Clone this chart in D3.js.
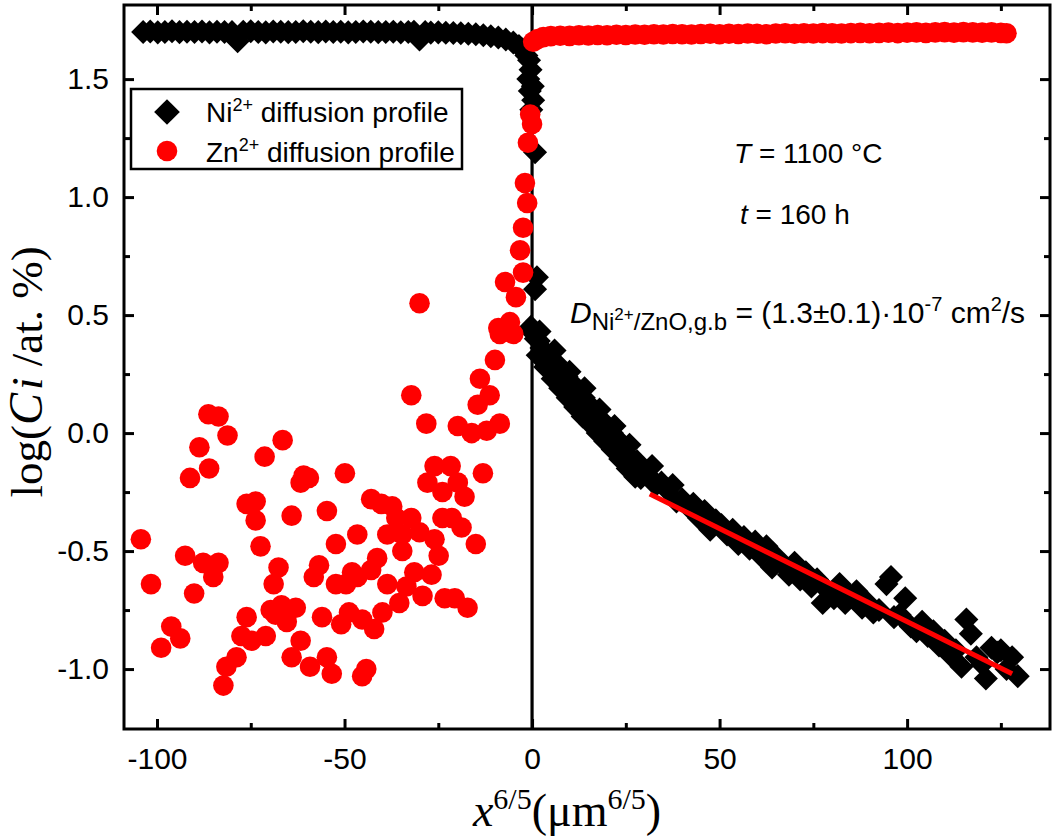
<!DOCTYPE html>
<html><head><meta charset="utf-8">
<script src="https://cdn.jsdelivr.net/npm/d3@7"></script>
<style>body{margin:0;background:#fff}</style>
</head><body>
<svg id="c" width="1053" height="840"></svg>
<script>
// ---- data ----
const xTicks = [-100, -50, 0, 50, 100];
const xMinor = [-75, -25, 25, 75, 125];
const yTicks = [-1.0, -0.5, 0.0, 0.5, 1.0, 1.5];
const yMinor = [-0.75, -0.25, 0.25, 0.75, 1.25];

// Ni2+ profile: plateau (x<0)
const niPlateauX = [-103.7,-101.8,-99.8,-97.9,-96.0,-94.0,-92.0,-90.0,-88.0,-86.0,-84.0,-82.0,-80.0,-78.5,-77.0,-75.0,-73.0,-71.0,-69.0,-67.0,-65.0,-63.0,-61.0,-59.0,-57.0,-55.0,-53.0,-51.0,-49.0,-47.0,-45.0,-43.0,-41.0,-39.0,-37.0,-35.0,-33.0,-31.5,-30.0,-28.5,-27.0,-25.0,-23.0,-21.0,-19.0,-17.0,-15.0,-13.0,-11.0,-9.0,-7.0,-5.0,-3.5];
const niPlateauY = [1.700,1.702,1.698,1.700,1.703,1.699,1.701,1.700,1.702,1.698,1.701,1.700,1.699,1.660,1.701,1.703,1.700,1.698,1.702,1.701,1.699,1.700,1.703,1.701,1.699,1.702,1.700,1.701,1.698,1.700,1.702,1.701,1.699,1.700,1.701,1.698,1.700,1.701,1.668,1.699,1.697,1.698,1.696,1.695,1.694,1.692,1.690,1.686,1.682,1.676,1.668,1.655,1.640];
// Ni2+ profile: drop at interface
const niDropX = [-2.5,-1.5,-0.8,-0.4,-1.0,0.2,-0.6,0.3,-0.2,0.8,1.3,0.8,-0.3,0.6];
const niDropY = [1.625,1.60,1.58,1.54,1.50,1.47,1.45,1.41,1.37,1.19,0.66,0.61,0.45,0.42];
// Ni2+ profile: grain-boundary tail (x>0)
const niTailX = [0.3,1.0,1.8,2.5,3.2,4.0,4.8,5.5,6.3,7.0,7.8,8.5,9.2,10.0,10.8,11.5,12.3,13.0,13.8,14.5,15.3,16.0,16.8,17.5,18.3,19.0,19.8,20.5,21.3,22.0,22.8,23.5,24.3,25.0,26.0,27.0,28.0,29.0,30.0,31.0,32.0,33.0,34.5,36.0,37.5,38.5,40.0,41.5,43.0,44.5,46.0,47.5,49.0,50.5,52.0,53.5,55.0,56.5,58.0,59.5,61.0,62.5,64.0,65.5,67.0,68.5,70.0,71.5,73.0,74.5,76.0,77.5,79.0,80.5,82.0,83.5,85.0,86.5,88.0,89.5,91.0,92.5,94.5,95.7,96.5,98.0,99.5,101.0,102.5,104.0,105.5,107.0,108.5,110.0,111.5,113.0,114.5,115.8,117.0,118.5,120.0,121.0,122.5,124.0,125.0,126.5,128.0,129.5];
const niTailY = [0.43,0.40,0.39,0.36,0.35,0.32,0.31,0.28,0.30,0.25,0.26,0.22,0.24,0.19,0.21,0.16,0.18,0.13,0.15,0.10,0.12,0.07,0.09,0.04,0.06,0.02,0.03,-0.01,0.00,-0.04,-0.03,-0.07,-0.05,-0.09,-0.10,-0.13,-0.12,-0.19,-0.16,-0.18,-0.14,-0.22,-0.21,-0.24,-0.22,-0.29,-0.28,-0.31,-0.30,-0.36,-0.33,-0.41,-0.37,-0.39,-0.43,-0.41,-0.47,-0.44,-0.49,-0.46,-0.52,-0.48,-0.57,-0.53,-0.56,-0.60,-0.55,-0.62,-0.59,-0.65,-0.62,-0.72,-0.67,-0.70,-0.64,-0.72,-0.69,-0.67,-0.74,-0.72,-0.76,-0.75,-0.64,-0.61,-0.78,-0.77,-0.70,-0.82,-0.84,-0.80,-0.86,-0.84,-0.90,-0.88,-0.94,-0.92,-0.99,-0.79,-0.85,-0.95,-0.98,-1.04,-0.91,-0.93,-0.92,-1.00,-0.95,-1.03];
// Ni2+ tail: scattered points around the steep start of the tail
const niSpreadX = [1.5,3.5,5.5,7.5,9.5,11.5,13.5,15.5,17.5,19.5,21.5,23.5,25.5,27.5,2.0,6.0,10.0,14.0,18.0,22.0,26.0];
const niSpreadY = [0.33,0.28,0.23,0.19,0.15,0.11,0.07,0.04,0.00,-0.035,-0.07,-0.11,-0.15,-0.185,0.43,0.35,0.26,0.19,0.10,0.03,-0.05];

// Zn2+ profile: plateau (x>0)
const znPlateauX = [0.3,1.5,3,5,7.5,10,12.5,15,17.5,20,22.5,25,27.5,30,32.5,35,37.5,40,42.5,45,47.5,50,52.5,55,57.5,60,62.5,65,67.5,70,72.5,75,77.5,80,82.5,85,87.5,90,92.5,95,97.5,100,102.5,105,107.5,110,112.5,115,117.5,120,122.5,125,126.5];
const znPlateauY = [1.658,1.670,1.678,1.682,1.684,1.683,1.686,1.685,1.687,1.686,1.688,1.687,1.689,1.688,1.690,1.689,1.691,1.690,1.689,1.691,1.692,1.690,1.692,1.691,1.693,1.692,1.690,1.693,1.694,1.692,1.694,1.693,1.695,1.694,1.693,1.695,1.696,1.694,1.696,1.697,1.695,1.697,1.698,1.696,1.698,1.699,1.697,1.699,1.698,1.697,1.698,1.696,1.694];
// Zn2+ profile: scattered / decaying part (x<0)
const znX = [-104.3,-101.6,-98.9,-96.2,-93.8,-92.5,-91.2,-90.1,-88.7,-87.7,-86.3,-86.1,-85.0,-83.6,-83.6,-82.3,-81.5,-81.2,-78.8,-77.5,-76.1,-76.1,-74.8,-73.7,-73.7,-72.4,-71.3,-71.0,-69.7,-68.9,-68.4,-67.6,-66.8,-66.5,-65.4,-64.1,-64.1,-63.0,-61.7,-61.7,-60.9,-59.5,-59.2,-58.2,-56.8,-56.0,-54.7,-54.7,-53.4,-52.3,-52.3,-50.9,-49.9,-49.6,-48.8,-48.0,-46.6,-46.6,-45.3,-45.3,-44.2,-42.9,-42.9,-42.1,-41.3,-40.2,-39.9,-38.6,-38.6,-37.3,-36.2,-35.4,-34.6,-34.6,-33.5,-32.2,-32.2,-31.4,-30.0,-30.0,-29.2,-28.2,-27.9,-26.8,-26.0,-26.0,-24.9,-23.9,-23.9,-23.3,-21.7,-21.4,-20.6,-19.8,-19.8,-18.8,-18.0,-17.2,-16.1,-15.0,-14.5,-13.9,-13.1,-12.1,-11.3,-9.9,-8.6,-8.6,-9.0,-7.2,-5.9,-5.0,-4.3,-2.4,-3.2,-2.4,-1.3,-1.9,-1.1,0.0,-0.5];
const znY = [-0.45,-0.64,-0.91,-0.82,-0.87,-0.52,-0.19,-0.68,-0.06,-0.55,0.08,-0.15,-0.61,0.07,-0.55,-1.07,-0.99,-0.01,-0.95,-0.86,-0.30,-0.78,-0.88,-0.29,-0.37,-0.48,-0.10,-0.86,-0.75,-0.64,-0.77,-0.57,-0.73,-0.03,-0.80,-0.35,-0.95,-0.74,-0.21,-0.88,-0.18,-0.19,-0.99,-0.61,-0.56,-0.78,-0.33,-0.95,-1.02,-0.47,-0.64,-0.81,-0.17,-0.64,-0.76,-0.59,-0.43,-0.61,-0.79,-1.03,-1.00,-0.28,-0.58,-0.83,-0.53,-0.30,-0.76,-0.43,-0.64,-0.31,-0.36,-0.72,-0.43,-0.50,-0.65,-0.36,0.16,-0.59,0.55,-0.42,-0.69,0.04,-0.21,-0.60,-0.14,-0.45,-0.52,-0.25,-0.36,-0.70,-0.14,-0.36,-0.70,0.03,-0.21,-0.40,-0.27,-0.74,0.00,-0.47,0.12,0.23,-0.17,0.01,0.16,0.31,0.04,0.42,0.445,0.64,0.47,0.42,0.576,0.68,0.775,0.87,0.975,1.06,1.23,1.31,1.35];

// linear fit of the Ni2+ grain-boundary tail
const fitX = [31.4, 128.0];
const fitY = [-0.258, -1.02];

// ---- drawing ----
const svg = d3.select('#c');
const L = 124, R = 1050, T = 5, B = 729;
const x = d3.scaleLinear().domain([-108.8, 138.1]).range([L, R]);
const y = d3.scaleLinear().domain([-1.254, 1.814]).range([B, T]);
const SANS = '"Liberation Sans", Arial, Helvetica, sans-serif';
const SERIF = '"Liberation Serif", "Times New Roman", Times, serif';
const zip = (a, b) => a.map((v, i) => [v, b[i]]);

// vertical interface line
svg.append('line').attr('x1', x(0)).attr('x2', x(0)).attr('y1', T).attr('y2', B)
  .attr('stroke', '#000').attr('stroke-width', 3.2);

// axes (ticks inward on all four sides)
function styleAxis(g) {
  g.select('.domain').remove();
  g.selectAll('.tick line').attr('stroke', '#000').attr('stroke-width', 3);
  g.selectAll('.tick text').attr('fill', '#000').style('font-family', SANS).style('font-size', '30px');
}
const fmtX = d => String(d);
const fmtY = d => d.toFixed(1);
svg.append('g').attr('transform', `translate(0,${B})`)
  .call(d3.axisBottom(x).tickValues(xTicks).tickSize(-10).tickPadding(19).tickFormat(fmtX)).call(styleAxis);
svg.append('g').attr('transform', `translate(0,${B})`)
  .call(d3.axisBottom(x).tickValues(xMinor).tickSize(-6).tickFormat('')).call(styleAxis);
svg.append('g').attr('transform', `translate(0,${T})`)
  .call(d3.axisTop(x).tickValues(xTicks).tickSize(-10).tickFormat('')).call(styleAxis);
svg.append('g').attr('transform', `translate(0,${T})`)
  .call(d3.axisTop(x).tickValues(xMinor).tickSize(-6).tickFormat('')).call(styleAxis);
svg.append('g').attr('transform', `translate(${L},0)`)
  .call(d3.axisLeft(y).tickValues(yTicks).tickSize(-10).tickPadding(15).tickFormat(fmtY)).call(styleAxis);
svg.append('g').attr('transform', `translate(${L},0)`)
  .call(d3.axisLeft(y).tickValues(yMinor).tickSize(-6).tickFormat('')).call(styleAxis);
svg.append('g').attr('transform', `translate(${R},0)`)
  .call(d3.axisRight(y).tickValues(yTicks).tickSize(-10).tickFormat('')).call(styleAxis);
svg.append('g').attr('transform', `translate(${R},0)`)
  .call(d3.axisRight(y).tickValues(yMinor).tickSize(-6).tickFormat('')).call(styleAxis);

// Ni2+ diamonds
const diamond = d3.symbol(d3.symbolSquare, 289);
const niData = zip(niPlateauX, niPlateauY).concat(zip(niDropX, niDropY), zip(niTailX, niTailY), zip(niSpreadX, niSpreadY));
svg.append('g').selectAll('path').data(niData).join('path')
  .attr('d', diamond)
  .attr('transform', d => `translate(${x(d[0])},${y(d[1])}) rotate(45)`)
  .attr('fill', '#000');

// Zn2+ circles
const znData = zip(znX, znY).concat(zip(znPlateauX, znPlateauY));
svg.append('g').selectAll('circle').data(znData).join('circle')
  .attr('cx', d => x(d[0])).attr('cy', d => y(d[1])).attr('r', 10.3)
  .attr('fill', '#ff0000');

// fit line
svg.append('path').datum(zip(fitX, fitY))
  .attr('d', d3.line().x(d => x(d[0])).y(d => y(d[1])))
  .attr('stroke', '#ff0000').attr('stroke-width', 5).attr('fill', 'none');

// frame
svg.append('rect').attr('x', L).attr('y', T).attr('width', R - L).attr('height', B - T)
  .attr('fill', 'none').attr('stroke', '#000').attr('stroke-width', 3);

// legend
const lg = svg.append('g');
lg.append('rect').attr('x', 131).attr('y', 89).attr('width', 331).attr('height', 80)
  .attr('fill', '#fff').attr('stroke', '#000').attr('stroke-width', 2.5);
lg.append('path').attr('d', d3.symbol(d3.symbolSquare, 330))
  .attr('transform', 'translate(167,112) rotate(45)').attr('fill', '#000');
lg.append('circle').attr('cx', 167).attr('cy', 151).attr('r', 10.3).attr('fill', '#ff0000');
function legendText(yy, ion) {
  const t = lg.append('text').attr('x', 206).attr('y', yy)
    .style('font-family', SANS).style('font-size', '28px').attr('fill', '#000');
  t.append('tspan').text(ion);
  t.append('tspan').attr('dy', -11).style('font-size', '18px').text('2+');
  t.append('tspan').attr('dy', 11).text(' diffusion profile');
}
legendText(122, 'Ni');
legendText(162, 'Zn');

// annotations
const a1 = svg.append('text').attr('x', 734).attr('y', 163)
  .style('font-family', SANS).style('font-size', '28px');
a1.append('tspan').style('font-style', 'italic').text('T');
a1.append('tspan').text(' = 1100 \u00B0C');
const a2 = svg.append('text').attr('x', 740).attr('y', 224)
  .style('font-family', SANS).style('font-size', '28px');
a2.append('tspan').style('font-style', 'italic').text('t');
a2.append('tspan').text(' = 160 h');

const a3 = svg.append('text').attr('x', 570).attr('y', 323)
  .style('font-family', SANS).style('font-size', '30px');
a3.append('tspan').style('font-style', 'italic').text('D');
a3.append('tspan').attr('dy', 7).style('font-size', '24px').text('Ni');
a3.append('tspan').attr('dy', -10).style('font-size', '17px').text('2+');
a3.append('tspan').attr('dy', 10).style('font-size', '24px').text('/ZnO,g.b');
a3.append('tspan').attr('dy', -7).text(' = (1.3\u00B10.1)\u00B710');
a3.append('tspan').attr('dy', -12).style('font-size', '20px').text('-7');
a3.append('tspan').attr('dy', 12).text(' cm');
a3.append('tspan').attr('dy', -12).style('font-size', '20px').text('2');
a3.append('tspan').attr('dy', 12).text('/s');

// axis titles
const xt = svg.append('text').attr('x', 567).attr('y', 826).attr('text-anchor', 'middle')
  .style('font-family', SERIF).style('font-size', '46px');
xt.append('tspan').style('font-style', 'italic').text('x');
xt.append('tspan').attr('dy', -17).style('font-size', '30px').text('6/5');
xt.append('tspan').attr('dy', 17).text('(\u03BCm');
xt.append('tspan').attr('dy', -17).style('font-size', '30px').text('6/5');
xt.append('tspan').attr('dy', 17).text(')');

const yt = svg.append('text').attr('transform', 'translate(42,372) rotate(-90)').attr('text-anchor', 'middle')
  .style('font-family', SERIF).style('font-size', '45px');
yt.append('tspan').text('log(');
yt.append('tspan').style('font-style', 'italic').style('font-size', '48px').text('C');
yt.append('tspan').style('font-style', 'italic').attr('dx', 3).text('i');
yt.append('tspan').text(' /at. %)');
</script>
</body></html>
